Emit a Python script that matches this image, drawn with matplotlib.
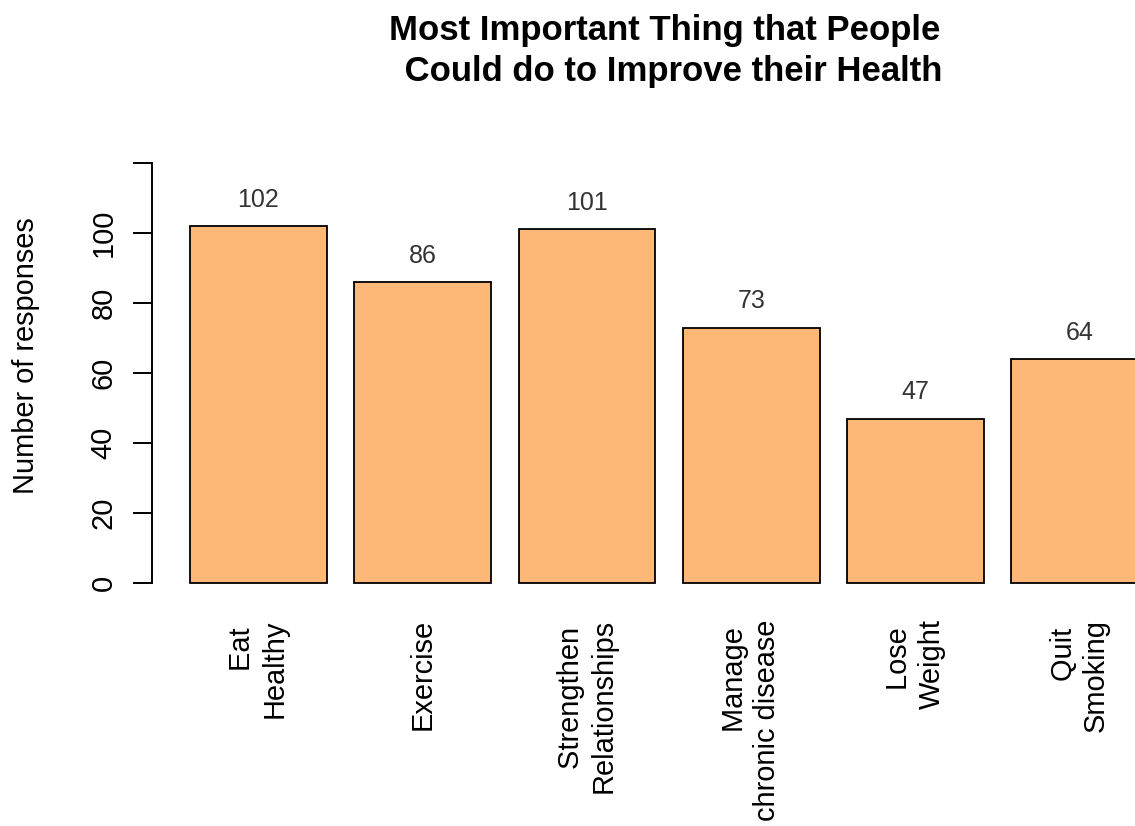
import numpy as np
import matplotlib
matplotlib.use("Agg")
import matplotlib.pyplot as plt

plt.rcParams['font.family'] = ['Liberation Sans', 'DejaVu Sans']

categories = ["Eat \nHealthy", "Exercise", "Strengthen \nRelationships",
              "Manage \nchronic disease", "Lose \nWeight", "Quit \nSmoking"]
responses = [102, 86, 101, 73, 47, 64]
yticks = [0, 20, 40, 60, 80, 100, 120]
ytick_labels = ["0", "20", "40", "60", "80", "100", ""]
title = "Most Important Thing that People \n Could do to Improve their Health"

fig = plt.figure(figsize=(11.35, 8.26), dpi=100)
# plot region runs off the right edge, like the original device
ax = fig.add_axes([151.6 / 1135, 1 - 601.2 / 826, 1035 / 1135, 491.4 / 826])

# barplot-style layout: width 1, space 0.2
pos = 0.7 + 1.2 * np.arange(len(responses))
ax.bar(pos, responses, width=1.0, color="#FDB878", edgecolor="black", linewidth=1.3)

for x, v in zip(pos, responses):
    ax.annotate(str(v), (x, v), xytext=(0, 14), textcoords="offset points",
                ha="center", va="baseline", fontsize=18, color="#333333")

ax.set_xlim(-0.08, 7.48)
ax.set_ylim(-5.2, 135.2)

for s in ["top", "right", "bottom"]:
    ax.spines[s].set_visible(False)
ax.spines["left"].set_bounds(0, 120)
ax.spines["left"].set_linewidth(1.4)

ax.set_yticks(yticks)
ax.set_yticklabels(ytick_labels, rotation=90, va="center")
ax.tick_params(axis="y", length=13.7, width=1.4, pad=10.8, labelsize=20.9)

ax.set_xticks(pos)
ax.set_xticklabels(categories, rotation=90, multialignment="right")
ax.tick_params(axis="x", length=0, pad=13, labelsize=20.9)

ax.set_ylabel("Number of responses", fontsize=20.9)
ax.yaxis.set_label_coords(-0.108, 0.5)

fig.text((151.6 + 1186.6) / 2 / 1135, 1 - 14 / 826, title, ha="center", va="top",
         multialignment="center", linespacing=1.32, fontsize=25, fontweight="bold")

fig.savefig("out.png", dpi=100)
